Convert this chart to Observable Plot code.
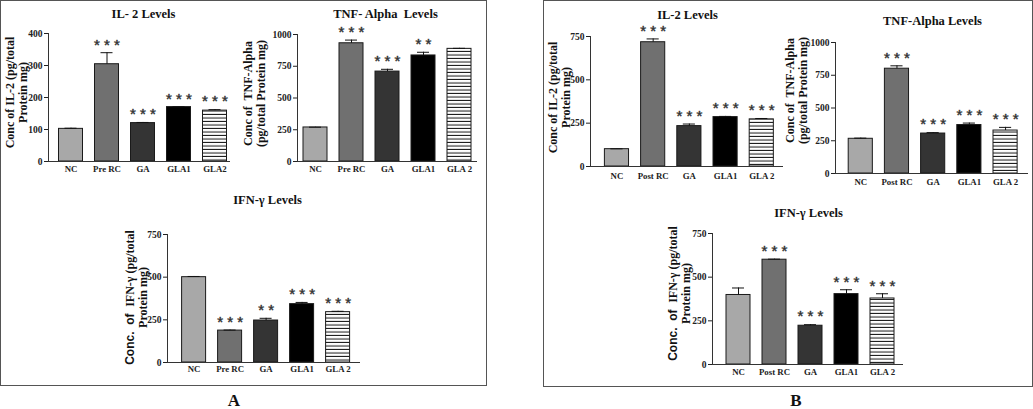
<!DOCTYPE html>
<html><head><meta charset="utf-8">
<script src="https://cdn.jsdelivr.net/npm/d3@7"></script>
<script src="https://cdn.jsdelivr.net/npm/@observablehq/plot@0.6"></script>
<style>
html,body{margin:0;padding:0;background:#fff;}
#root{position:relative;width:1033px;height:409px;overflow:hidden;}
.panel{position:absolute;border:1.5px solid #555;box-sizing:border-box;}
.plab{position:absolute;font:bold 17px "Liberation Serif",serif;color:#111;transform:translate(-50%,-50%);}
</style></head><body>
<div id="root">
  <svg width="0" height="0" style="position:absolute">
    <defs>
      <pattern id="stripes" patternUnits="userSpaceOnUse" width="6" height="3.5">
        <rect width="6" height="3.5" fill="#fff"></rect>
        <rect y="2.5" width="6" height="1" fill="#111"></rect>
      </pattern>
    </defs>
  </svg>
  <div class="panel" style="left:0px;top:0px;width:487px;height:386px"></div>
  <div class="panel" style="left:543px;top:0px;width:490px;height:387px"></div>
  <div class="plab" style="left:234px;top:401px">A</div>
  <div class="plab" style="left:796px;top:401px">B</div>
</div>
<script>
// ---- data ----
const catsIL2A = ["NC","Pre RC","GA","GLA1","GLA2"];
const catsA = ["NC","Pre RC","GA","GLA1","GLA 2"];
const catsB = ["NC","Post RC","GA","GLA1","GLA 2"];

const il2A = [102, 304, 120, 170, 159];
const il2AErr = [2, 36, 2, 1, 3];
const il2AStars = ["", "***", "***", "***", "***"];

const tnfA = [268, 931, 708, 835, 887];
const tnfAErr = [2, 25, 18, 25, 4];
const tnfAStars = ["", "***", "***", "**", ""];

const ifnA = [500, 187, 246, 342, 295];
const ifnAErr = [4, 3, 13, 10, 5];
const ifnAStars = ["", "***", "**", "***", "***"];

const il2B = [100, 717, 233, 285, 272];
const il2BErr = [2, 19, 12, 4, 5];
const il2BStars = ["", "***", "***", "***", "***"];

const tnfB = [265, 800, 305, 370, 328];
const tnfBErr = [5, 22, 7, 15, 24];
const tnfBStars = ["", "***", "***", "***", "***"];

const ifnB = [398, 600, 222, 403, 378];
const ifnBErr = [40, 3, 6, 25, 27];
const ifnBStars = ["", "***", "***", "***", "***"];

const ticks400 = [0, 100, 200, 300, 400];
const ticks750 = [0, 250, 500, 750];
const ticks1000 = [0, 250, 500, 750, 1000];

const fills = ["#a8a8a8", "#707070", "#343434", "#000000", "url(#stripes)"];

const root = document.getElementById("root");

function chart(g) {
  const data = g.cats.map((c, i) => ({cat: c, val: g.vals[i], err: g.errs[i], star: g.stars[i]}));
  const L = Math.floor(g.labelX - 16), T = Math.floor(g.titleY - 10);
  const R = g.xEnd + 4, B = g.tickY + 8;
  const p = 1 / 3;
  const r0 = g.left0 - p * g.step, r1 = r0 + g.step * (g.cats.length + p);
  const serif = "Liberation Serif";
  const svg = Plot.plot({
    width: R - L, height: B - T,
    marginLeft: g.axisX - L, marginRight: R - g.xEnd,
    marginTop: g.yTop - T, marginBottom: B - g.y0,
    x: {type: "band", domain: g.cats, range: [r0 - L, r1 - L], padding: p, round: false},
    y: {domain: [0, g.yMax]},
    color: {type: "ordinal", domain: g.cats, range: fills},
    style: {background: "transparent", fontFamily: serif, fontWeight: "bold", color: "#222", overflow: "visible"},
    marks: [
      Plot.barY(data, {x: "cat", y: "val", fill: "cat", stroke: "#1a1a1a", strokeWidth: 1}),
      Plot.ruleX(data.filter(d => d.err > 0), {x: "cat", y1: "val", y2: d => d.val + d.err, stroke: "#111"}),
      Plot.tickY(data.filter(d => d.err > 0), {x: "cat", y: d => d.val + d.err, insetLeft: 6, insetRight: 6, stroke: "#111"}),
      Plot.text(data.filter(d => d.star), {x: "cat", y: d => d.val + d.err, text: d => d.star.split("").join(" "),
        dy: -8, fontFamily: "Liberation Sans", fontWeight: "normal", fontSize: 15, fill: "#333",
        stroke: "#333", strokeWidth: 0.45, lineAnchor: "middle"}),
      Plot.ruleY([0], {stroke: "#333"}),
      Plot.frame({anchor: "left", stroke: "#333"}),
      Plot.axisY({ticks: g.ticks, tickFormat: d => String(d), tickSize: 4, tickPadding: 2, fontSize: 9.5, label: null}),
      Plot.axisX({tickSize: 0, tickPadding: g.tickY - g.y0 - 4.5, fontSize: 8.8, label: null}),
      Plot.text([g.title], {text: d => d, frameAnchor: "top-left", textAnchor: "middle", lineAnchor: "middle",
        dx: g.titleX - g.axisX, dy: g.titleY - g.yTop,
        fontSize: 12.5, fontWeight: "bold", fontFamily: serif, fill: "#111"}),
      Plot.text([g.ylabel], {text: d => d, frameAnchor: "top-left", textAnchor: "middle", lineAnchor: "middle",
        rotate: -90, dx: g.labelX - g.axisX, dy: g.labelY - g.yTop,
        fontSize: 12, lineHeight: 1.08, fontWeight: "bold", fontFamily: serif, fill: "#111"})
    ]
  });
  // "Conc. of" rendered in a sans face, as in the reference
  svg.querySelectorAll("tspan, text").forEach(el => {
    if (el.childElementCount === 0 && el.textContent.startsWith("Conc. of ")) {
      const rest = el.textContent.slice("Conc. of ".length);
      el.textContent = "";
      const ns = "http://www.w3.org/2000/svg";
      const a = document.createElementNS(ns, "tspan");
      a.setAttribute("font-family", "Liberation Sans");
      a.textContent = "Conc.  of  ";
      const b = document.createElementNS(ns, "tspan");
      b.textContent = rest;
      el.append(a, b);
    }
  });
  svg.style.position = "absolute";
  svg.style.left = L + "px";
  svg.style.top = T + "px";
  root.append(svg);
}

chart({cats: catsIL2A, vals: il2A, errs: il2AErr, stars: il2AStars, yMax: 400, ticks: ticks400,
  title: "IL- 2 Levels", ylabel: "Conc of IL-2 (pg/total\nProtein mg)",
  axisX: 48, xEnd: 230, y0: 161, yTop: 33, left0: 58.5, step: 36,
  titleX: 143, titleY: 13, labelX: 16, labelY: 92, tickY: 170});

chart({cats: catsA, vals: tnfA, errs: tnfAErr, stars: tnfAStars, yMax: 1000, ticks: ticks1000,
  title: "TNF- Alpha  Levels", ylabel: "Conc of  TNF-Alpha\n(pg/total Protein mg)",
  axisX: 297, xEnd: 477, y0: 161, yTop: 34, left0: 303, step: 36,
  titleX: 385, titleY: 13, labelX: 254, labelY: 93, tickY: 170});

chart({cats: catsA, vals: ifnA, errs: ifnAErr, stars: ifnAStars, yMax: 750, ticks: ticks750,
  title: "IFN-γ Levels", ylabel: "Conc. of IFN-γ (pg/total\nProtein mg)",
  axisX: 167, xEnd: 360, y0: 362, yTop: 234, left0: 181.6, step: 36,
  titleX: 267, titleY: 199, labelX: 136, labelY: 297, tickY: 370});

chart({cats: catsB, vals: il2B, errs: il2BErr, stars: il2BStars, yMax: 750, ticks: ticks750,
  title: "IL-2 Levels", ylabel: "Conc of IL-2 (pg/total\nProtein mg)",
  axisX: 590, xEnd: 783, y0: 166, yTop: 36, left0: 604.4, step: 36.2,
  titleX: 687, titleY: 14, labelX: 559, labelY: 97, tickY: 177});

chart({cats: catsB, vals: tnfB, errs: tnfBErr, stars: tnfBStars, yMax: 1000, ticks: ticks1000,
  title: "TNF-Alpha Levels", ylabel: "Conc of  TNF-Alpha\n(pg/total Protein mg)",
  axisX: 835, xEnd: 1028, y0: 173, yTop: 42, left0: 848.2, step: 36.2,
  titleX: 932, titleY: 20, labelX: 796, labelY: 90, tickY: 183});

chart({cats: catsB, vals: ifnB, errs: ifnBErr, stars: ifnBStars, yMax: 750, ticks: ticks750,
  title: "IFN-γ Levels", ylabel: "Conc. of IFN-γ (pg/total\nProtein mg)",
  axisX: 712, xEnd: 903, y0: 364, yTop: 233, left0: 726, step: 36,
  titleX: 808, titleY: 212, labelX: 679, labelY: 293, tickY: 373});
</script>
</body></html>
